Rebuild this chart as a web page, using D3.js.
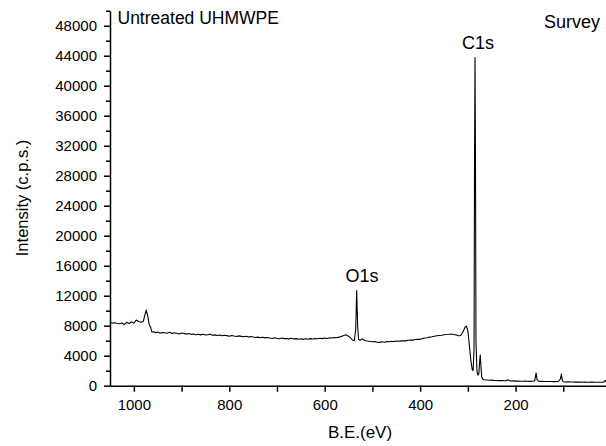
<!DOCTYPE html>
<html>
<head>
<meta charset="utf-8">
<script src="https://cdnjs.cloudflare.com/ajax/libs/d3/7.8.5/d3.min.js"></script>
<style>
  body { margin: 0; background: #fff; }
  svg { display: block; font-family: "Liberation Sans", Arial, sans-serif; }
</style>
</head>
<body>
<div id="chart"></div>
<script>
// XPS survey spectrum (B.E. in eV, counts per second)
const bindingEnergy = [
  1050, 1045, 1040, 1035, 1030, 1025, 1020, 1015, 1010, 1005, 1000, 995, 990, 985, 980, 977, 974, 971, 968, 965,
  962, 958, 954, 950, 945, 940, 935, 930, 925, 920, 915, 910, 905, 900, 895, 890, 885, 880, 875, 870,
  865, 860, 855, 850, 845, 840, 835, 830, 825, 820, 815, 810, 805, 800, 795, 790, 785, 780, 775, 770,
  765, 760, 755, 750, 745, 740, 735, 730, 725, 720, 715, 710, 705, 700, 695, 690, 685, 680, 675, 670,
  665, 660, 655, 650, 645, 640, 635, 630, 625, 620, 615, 610, 605, 600, 595, 590, 585, 580, 575, 570,
  565, 560, 556, 552, 548, 545, 542, 538, 535, 533, 531, 529, 526, 522, 518, 514, 510, 505, 500, 495,
  490, 485, 480, 475, 470, 465, 460, 455, 450, 445, 440, 435, 430, 425, 420, 415, 410, 405, 400, 395,
  390, 385, 380, 375, 370, 365, 360, 355, 350, 345, 340, 335, 330, 325, 320, 315, 310, 306, 303, 300,
  297, 294, 291, 289, 287, 286, 285, 284, 283, 281, 279, 277, 275, 274, 273, 271, 269, 266, 260, 255,
  250, 245, 240, 235, 230, 225, 220, 216, 213, 210, 205, 200, 195, 190, 185, 180, 175, 170, 165, 160,
  157, 155, 152, 145, 140, 135, 130, 125, 120, 115, 110, 106, 104, 102, 100, 95, 90, 85, 80, 75,
  70, 65, 60, 55, 50, 45, 40, 35, 30, 25, 20, 15, 12, 10
];
const intensity = [
  8450, 8350, 8400, 8300, 8250, 8350, 8150, 8450, 8300, 8500, 8350, 8750, 8550, 8450, 8600, 9400, 10100, 9300, 8200, 7800,
  7150, 7200, 7050, 7150, 7000, 7100, 7050, 7000, 7120, 6950, 7050, 7000, 6900, 7020, 6950, 6880, 6950, 6850, 6900, 6800,
  6850, 6780, 6850, 6750, 6800, 6850, 6720, 6780, 6700, 6760, 6650, 6720, 6680, 6600, 6700, 6620, 6560, 6640, 6580, 6520,
  6600, 6480, 6550, 6500, 6420, 6480, 6400, 6460, 6380, 6420, 6350, 6300, 6400, 6320, 6250, 6350, 6280, 6300, 6240, 6320,
  6220, 6280, 6200, 6260, 6180, 6250, 6200, 6280, 6220, 6300, 6250, 6320, 6280, 6350, 6300, 6380, 6350, 6420, 6400, 6480,
  6550, 6700, 6800, 6650, 6500, 6300, 6100, 6000, 7500, 12700, 8000, 6200, 6050, 6250, 6100, 6000, 5950, 5900, 5850, 5880,
  5800, 5780, 5850, 5800, 5880, 5850, 5920, 5900, 5960, 5920, 5980, 6000, 5980, 6050, 6100, 6080, 6150, 6200, 6180, 6280,
  6350, 6400, 6480, 6520, 6600, 6650, 6700, 6720, 6800, 6820, 6850, 6900, 6820, 6780, 6650, 6700, 7200, 7800, 7950, 7300,
  5500, 3500, 2200, 2000, 5000, 30000, 43750, 30000, 6000, 2000, 1400, 1600, 3500, 4100, 3000, 1200, 900, 800, 760, 720,
  740, 700, 690, 680, 700, 660, 650, 800, 650, 620, 640, 610, 620, 600, 590, 610, 590, 580, 600, 650,
  1700, 800, 600, 580, 560, 570, 550, 560, 540, 540, 560, 900, 1550, 700, 520, 500, 510, 490, 500, 480,
  490, 480, 470, 480, 470, 460, 480, 470, 460, 470, 460, 480, 700, 500
];

const yMajorTicks = [0, 4000, 8000, 12000, 16000, 20000, 24000, 28000, 32000, 36000, 40000, 44000, 48000];
const yMinorTicks = [2000, 6000, 10000, 14000, 18000, 22000, 26000, 30000, 34000, 38000, 42000, 46000, 50000];
const xMajorTicks = [1000, 800, 600, 400, 200];
const xMinorTicks = [900, 700, 500, 300, 100];

// label anchor (centre of the text, baseline) in data units
const peakLabels = [
  { text: "C1s", be: 278.5, value: 44850 },
  { text: "O1s", be: 522, value: 13790 }
];

const width = 606, height = 446;
const plotLeft = 110, plotRight = 611, plotTop = 10.7, plotBottom = 385.7;

const svg = d3.select("#chart").append("svg")
  .attr("width", width)
  .attr("height", height);

const x = d3.scaleLinear().domain([1050, 0]).range([plotLeft, plotRight]);
const y = d3.scaleLinear().domain([0, 50000]).range([plotBottom, plotTop]);

// minor ticks first, then the major axes on top
svg.append("g")
  .attr("transform", `translate(${plotLeft},0)`)
  .call(d3.axisLeft(y).tickValues(yMinorTicks).tickSize(4).tickFormat(""))
  .call(g => g.select(".domain").remove());

svg.append("g")
  .attr("transform", `translate(0,${plotBottom})`)
  .call(d3.axisBottom(x).tickValues(xMinorTicks).tickSize(6).tickFormat(""))
  .call(g => g.select(".domain").remove());

svg.append("g")
  .attr("transform", `translate(${plotLeft},0)`)
  .call(d3.axisLeft(y).tickValues(yMajorTicks).tickSize(6).tickSizeOuter(0).tickPadding(7).tickFormat(d3.format("d")));

svg.append("g")
  .attr("transform", `translate(0,${plotBottom})`)
  .call(d3.axisBottom(x).tickValues(xMajorTicks).tickSize(6).tickSizeOuter(0).tickPadding(8).tickFormat(d3.format("d")));

svg.selectAll(".tick line").attr("stroke", "#000").attr("stroke-width", 1.5);
svg.selectAll(".domain").attr("stroke", "#000").attr("stroke-width", 1.5);
svg.selectAll(".tick text")
  .attr("fill", "#000")
  .style("font-family", '"Liberation Sans", Arial, sans-serif')
  .style("font-size", "15px");

const points = bindingEnergy.map((be, i) => ({ be, v: intensity[i] }));

svg.append("path")
  .datum(points)
  .attr("fill", "none")
  .attr("stroke", "#000")
  .attr("stroke-width", 1.1)
  .attr("stroke-linejoin", "round")
  .attr("d", d3.line().x(d => x(d.be)).y(d => y(d.v)));

// labels
svg.append("text")
  .attr("x", 117.5)
  .attr("y", 24.3)
  .style("font-size", "17.5px")
  .text("Untreated UHMWPE");

svg.append("text")
  .attr("x", 600)
  .attr("y", 28)
  .attr("text-anchor", "end")
  .style("font-size", "18px")
  .text("Survey");

svg.selectAll(".peak")
  .data(peakLabels)
  .enter()
  .append("text")
  .attr("class", "peak")
  .attr("x", d => x(d.be))
  .attr("y", d => y(d.value))
  .attr("text-anchor", "middle")
  .style("font-size", "18px")
  .text(d => d.text);

svg.append("text")
  .attr("x", (plotLeft + width) / 2 + 2)
  .attr("y", 437.5)
  .attr("text-anchor", "middle")
  .style("font-size", "17px")
  .text("B.E.(eV)");

svg.append("text")
  .attr("transform", "translate(27.5,198) rotate(-90)")
  .attr("text-anchor", "middle")
  .style("font-size", "16.5px")
  .text("Intensity (c.p.s.)");
</script>
</body>
</html>
